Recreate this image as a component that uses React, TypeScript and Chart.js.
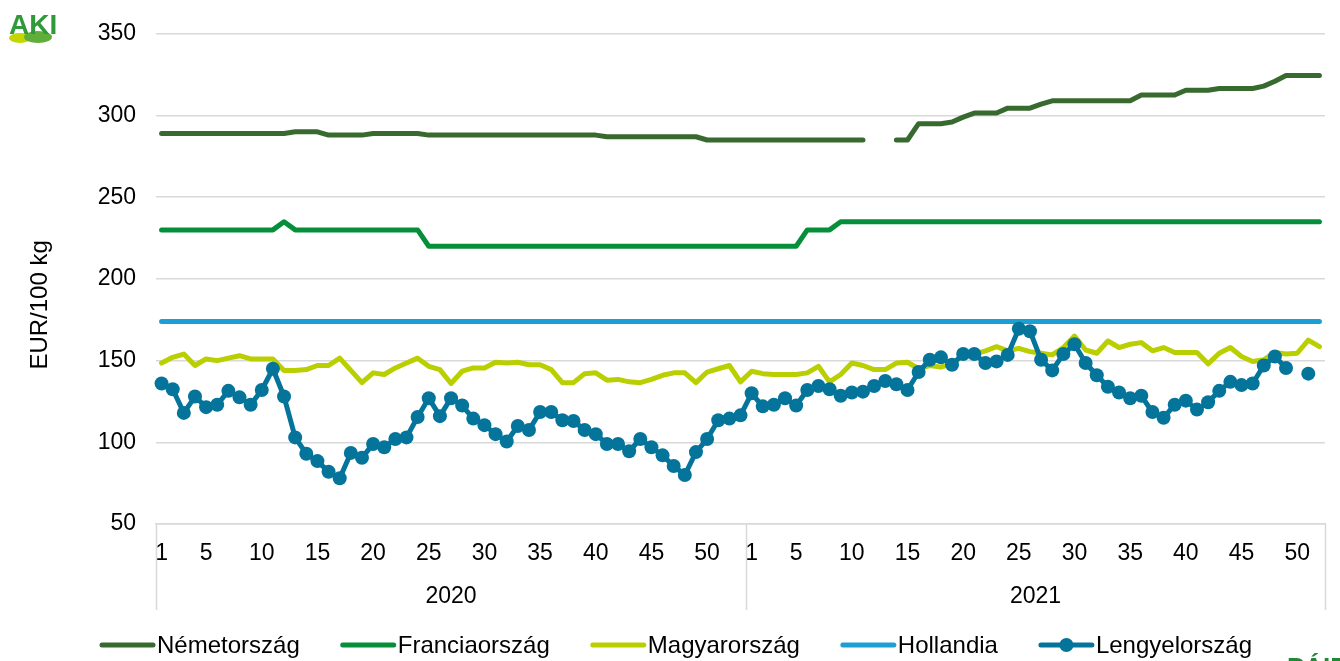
import React, { useEffect, useRef } from "react";
import { Chart, registerables } from "chart.js";
Chart.register(...registerables);

// ---- categories ----
const weeks2020: number[] = Array.from({ length: 53 }, (_, i) => i + 1);
const weeks2021: number[] = Array.from({ length: 52 }, (_, i) => i + 1);
const years: string[] = ["2020", "2021"];
const weekLabels: string[] = [...weeks2020, ...weeks2021].map((w) => String(w));
const shownWeeks: number[] = [1, 5, 10, 15, 20, 25, 30, 35, 40, 45, 50];
const yTicks: number[] = [50, 100, 150, 200, 250, 300, 350];

// ---- series (EUR/100 kg) ----
const nemet2020: (number | null)[] = [
  289, 289, 289, 289, 289, 289, 289, 289, 289, 289,
  289, 289, 290, 290, 290, 288, 288, 288, 288, 289,
  289, 289, 289, 289, 288, 288, 288, 288, 288, 288,
  288, 288, 288, 288, 288, 288, 288, 288, 288, 288,
  287, 287, 287, 287, 287, 287, 287, 287, 287, 285,
  285, 285, 285,
];
const nemet2021: (number | null)[] = [
  285, 285, 285, 285, 285, 285, 285, 285, 285, 285,
  285, null, null, 285, 285, 295, 295, 295, 296, 299,
  301.5, 301.5, 301.5, 304.5, 304.5, 304.5, 307, 309, 309, 309,
  309, 309, 309, 309, 309, 312.5, 312.5, 312.5, 312.5, 315.5,
  315.5, 315.5, 316.5, 316.5, 316.5, 316.5, 318, 321, 324.5, 324.5,
  324.5, 324.5,
];
const francia2020: number[] = [
  230, 230, 230, 230, 230, 230, 230, 230, 230, 230,
  230, 235, 230, 230, 230, 230, 230, 230, 230, 230,
  230, 230, 230, 230, 220, 220, 220, 220, 220, 220,
  220, 220, 220, 220, 220, 220, 220, 220, 220, 220,
  220, 220, 220, 220, 220, 220, 220, 220, 220, 220,
  220, 220, 220,
];
const francia2021: number[] = [
  220, 220, 220, 220, 220, 230, 230, 230, 235, 235,
  235, 235, 235, 235, 235, 235, 235, 235, 235, 235,
  235, 235, 235, 235, 235, 235, 235, 235, 235, 235,
  235, 235, 235, 235, 235, 235, 235, 235, 235, 235,
  235, 235, 235, 235, 235, 235, 235, 235, 235, 235,
  235, 235,
];
const magyar2020: number[] = [
  148.5, 152, 154, 147, 151, 150, 151.5, 153, 151, 151,
  151, 144, 144, 144.5, 147, 147, 151.5, 144, 136.5, 142.5,
  141.5, 145.5, 148.5, 151.5, 146.5, 144.5, 136, 143.5, 145.5, 145.5,
  149, 148.5, 149, 147.5, 147.5, 144.5, 136.5, 136.5, 142, 142.5,
  138, 138.5, 137, 136.5, 138.5, 141, 142.5, 142.5, 136.5, 143,
  145, 147, 137,
];
const magyar2021: number[] = [
  143.5, 142, 141.5, 141.5, 141.5, 142.5, 146.5, 137, 141.5, 148.5,
  147, 144.5, 144.5, 148.5, 149, 145, 147, 146, 148, 153.5,
  154, 156, 158.5, 156, 157.5, 155.5, 154.5, 153.5, 158, 165,
  156.5, 154.5, 162, 158, 160, 161, 156, 158, 155, 155,
  155, 148, 154.5, 158, 152.5, 149.5, 150.5, 155, 154, 154.5,
  162.5, 158.5,
];
const holland2020: number[] = [
  174, 174, 174, 174, 174, 174, 174, 174, 174, 174,
  174, 174, 174, 174, 174, 174, 174, 174, 174, 174,
  174, 174, 174, 174, 174, 174, 174, 174, 174, 174,
  174, 174, 174, 174, 174, 174, 174, 174, 174, 174,
  174, 174, 174, 174, 174, 174, 174, 174, 174, 174,
  174, 174, 174,
];
const holland2021: number[] = [
  174, 174, 174, 174, 174, 174, 174, 174, 174, 174,
  174, 174, 174, 174, 174, 174, 174, 174, 174, 174,
  174, 174, 174, 174, 174, 174, 174, 174, 174, 174,
  174, 174, 174, 174, 174, 174, 174, 174, 174, 174,
  174, 174, 174, 174, 174, 174, 174, 174, 174, 174,
  174, 174,
];
const lengyel2020: (number | null)[] = [
  136, 132.5, 118, 128, 121.5, 123, 131.5, 127.5, 123, 132,
  145, 128, 103, 93, 88.5, 82, 78, 93.5, 90.5, 99,
  97, 102, 103, 115.5, 127, 116, 127, 122.5, 114.5, 110.5,
  105, 100.5, 110, 107.5, 118.5, 118.5, 113.5, 113, 107.5, 105,
  99, 99, 94.5, 102, 97, 92, 85.5, 80, 94, 102,
  113.5, 114.5, 116.5,
];
const lengyel2021: (number | null)[] = [
  130, 122, 123, 127, 122.5, 132, 134.5, 132.5, 128.5, 130.5,
  131, 134.5, 137.5, 135.5, 132, 143, 150.5, 152, 147.5, 154,
  154, 148.5, 149.5, 153.5, 169.5, 168, 150.5, 144, 154, 160,
  148.5, 141, 134, 130.5, 127, 128.5, 118.5, 115, 123, 125.5,
  120, 124.5, 131.5, 137, 135, 136, 147, 152.5, 145.5, null,
  142, null,
];

const seriesNames: string[] = ["Németország", "Franciaország", "Magyarország", "Hollandia", "Lengyelország"];
const seriesColors: string[] = ["#386a2f", "#068f3a", "#bacf00", "#1c9fd2", "#04749b"];

const FONT = '"Liberation Sans", Arial, Helvetica, sans-serif';

const overlayPlugin = {
  id: "overlay",
  afterDraw(chart: any) {
    const { ctx, chartArea } = chart;
    const { left, right, top, bottom } = chartArea;
    const xs = chart.scales.x;
    const mid = (xs.getPixelForValue(weeks2020.length - 1) + xs.getPixelForValue(weeks2020.length)) / 2;
    ctx.save();
    // group separators
    ctx.strokeStyle = "#d9d9d9";
    ctx.lineWidth = 1.5;
    [left, mid, right].forEach((px: number) => {
      ctx.beginPath();
      ctx.moveTo(Math.round(px) + 0.5, bottom);
      ctx.lineTo(Math.round(px) + 0.5, bottom + 86);
      ctx.stroke();
    });
    // year labels
    ctx.fillStyle = "#000";
    ctx.font = `23px ${FONT}`;
    ctx.textAlign = "center";
    ctx.textBaseline = "alphabetic";
    ctx.fillText(years[0], (left + mid) / 2, bottom + 79);
    ctx.fillText(years[1], (mid + right) / 2, bottom + 79);
    // y title
    ctx.save();
    ctx.translate(47, (top + bottom) / 2 + 26);
    ctx.rotate(-Math.PI / 2);
    ctx.font = `24px ${FONT}`;
    ctx.fillText("EUR/100 kg", 0, 0);
    ctx.restore();
    // legend
    ctx.font = `24px ${FONT}`;
    ctx.textAlign = "left";
    let x = 100;
    const ly = 645;
    seriesNames.forEach((name, i) => {
      ctx.strokeStyle = seriesColors[i];
      ctx.lineWidth = 5;
      ctx.lineCap = "round";
      ctx.beginPath();
      ctx.moveTo(x + 2, ly);
      ctx.lineTo(x + 53, ly);
      ctx.stroke();
      if (i === 4) {
        ctx.fillStyle = seriesColors[i];
        ctx.beginPath();
        ctx.arc(x + 27.5, ly, 7, 0, Math.PI * 2);
        ctx.fill();
      }
      ctx.fillStyle = "#000";
      ctx.fillText(name, x + 57, ly + 8);
      x += 57 + ctx.measureText(name).width + 41;
    });
    // logos
    ctx.fillStyle = "#c3d600";
    ctx.beginPath();
    ctx.ellipse(20, 38, 11, 5, 0, 0, Math.PI * 2);
    ctx.fill();
    ctx.fillStyle = "#5fae3a";
    ctx.beginPath();
    ctx.ellipse(38, 37, 14, 6, 0, 0, Math.PI * 2);
    ctx.fill();
    ctx.fillStyle = "#2f9a3a";
    ctx.font = `bold 28px ${FONT}`;
    ctx.fillText("AKI", 9, 34);
    ctx.fillStyle = "#1f8a36";
    ctx.font = `bold 26px ${FONT}`;
    ctx.fillText("PÁIR", 1287, 676);
    ctx.restore();
  },
};

export default function App() {
  const ref = useRef<HTMLCanvasElement | null>(null);
  useEffect(() => {
    document.body.style.margin = "0";
    if (!ref.current) return;
    Chart.defaults.font.family = FONT;
    const all = (a: any[], b: any[]) => [...a, ...b];
    const base = {
      fill: false,
      borderWidth: 5,
      pointRadius: 0,
      pointHoverRadius: 0,
      tension: 0,
      spanGaps: false,
      borderJoinStyle: "round" as const,
      borderCapStyle: "round" as const,
    };
    const chart = new Chart(ref.current, {
      type: "line",
      data: {
        labels: weekLabels,
        datasets: [
          { ...base, label: seriesNames[0], data: all(nemet2020, nemet2021), borderColor: seriesColors[0], backgroundColor: seriesColors[0], order: 4 },
          { ...base, label: seriesNames[1], data: all(francia2020, francia2021), borderColor: seriesColors[1], backgroundColor: seriesColors[1], order: 3 },
          { ...base, label: seriesNames[2], data: all(magyar2020, magyar2021), borderColor: seriesColors[2], backgroundColor: seriesColors[2], order: 1 },
          { ...base, label: seriesNames[3], data: all(holland2020, holland2021), borderColor: seriesColors[3], backgroundColor: seriesColors[3], order: 2 },
          {
            ...base,
            label: seriesNames[4],
            data: all(lengyel2020, lengyel2021),
            borderColor: seriesColors[4],
            backgroundColor: seriesColors[4],
            pointRadius: 7,
            pointBorderWidth: 0,
            pointBackgroundColor: seriesColors[4],
            order: 0,
          },
        ],
      },
      options: {
        responsive: false,
        animation: false,
        events: [],
        layout: { padding: { top: 32, right: 15, left: 0, bottom: 0 } },
        plugins: { legend: { display: false }, tooltip: { enabled: false }, title: { display: false } },
        scales: {
          x: {
            type: "category",
            offset: true,
            grid: { display: false, drawTicks: false },
            border: { display: true, color: "#d9d9d9", width: 1.5 },
            ticks: {
              autoSkip: false,
              maxRotation: 0,
              minRotation: 0,
              padding: 16,
              color: "#000",
              font: { size: 23, family: FONT },
              callback: (_v: any, idx: number) => {
                const w = Number(weekLabels[idx]);
                return shownWeeks.includes(w) ? String(w) : "";
              },
            },
            afterFit: (s: any) => {
              s.height = 137;
            },
          },
          y: {
            min: 50,
            max: 350,
            afterBuildTicks: (s: any) => {
              s.ticks = yTicks.map((v) => ({ value: v }));
            },
            grid: { color: "#d9d9d9", lineWidth: 1.5, drawTicks: false },
            border: { display: false },
            ticks: { padding: 20, color: "#000", font: { size: 23, family: FONT } },
            afterFit: (s: any) => {
              s.width = 156;
            },
          },
        },
      },
      plugins: [overlayPlugin],
    });
    return () => chart.destroy();
  }, []);
  return <canvas ref={ref} width={1340} height={661} style={{ display: "block" }} />;
}
